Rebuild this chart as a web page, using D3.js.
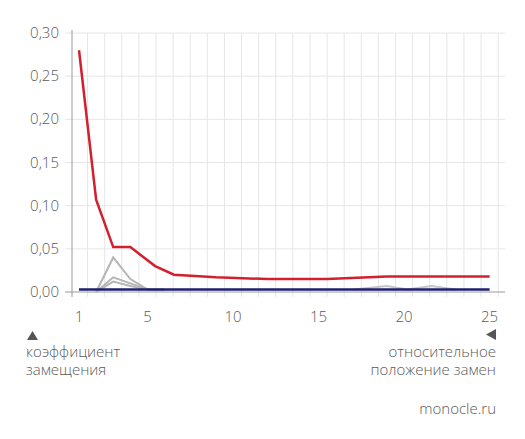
<!DOCTYPE html>
<html><head><meta charset="utf-8">
<script src="https://cdn.jsdelivr.net/npm/d3@7"></script>
<style>body{margin:0;background:#fff}text{font-family:"Open Sans",sans-serif;fill:#5a5a5a;font-weight:300}</style>
</head><body>
<script>
var xTicks = [1, 5, 10, 15, 20, 25];
var yTicks = [0, 0.05, 0.10, 0.15, 0.20, 0.25, 0.30];
var redX = [1, 2, 3, 4, 5.45, 6.55, 9, 12, 15.5, 19, 25];
var redY = [0.28, 0.107, 0.052, 0.052, 0.03, 0.02, 0.017, 0.015, 0.015, 0.018, 0.018];
var grayX = [2, 3, 4, 5, 6];
var gray1 = [0, 0.04, 0.015, 0.003, 0.003];
var gray2 = [0, 0.017, 0.01, 0.003, 0.003];
var gray3 = [0, 0.012, 0.007, 0.003, 0.003];
var grayTailX = [17, 19, 20.2, 21.6, 23];
var grayTailY = [0.003, 0.007, 0.003, 0.007, 0.003];
var navyX = [1, 25];
var navyY = [0.003, 0.003];

var w = 525, h = 439;
var svg = d3.select('body').append('svg').attr('width', w).attr('height', h);
var x = d3.scaleLinear().domain([0.59, 25.9]).range([72, 505]);
var y = d3.scaleLinear().domain([0, 0.30]).range([292, 33]);

// grid
var vlines = d3.range(1.5, 26, 1);
svg.selectAll('.vg').data(vlines).enter().append('line')
  .attr('x1', d => x(d)).attr('x2', d => x(d)).attr('y1', 33).attr('y2', 297)
  .attr('stroke', '#e6e6e6').attr('stroke-width', 1);
svg.selectAll('.hg').data(yTicks).enter().append('line')
  .attr('x1', 65).attr('x2', 505).attr('y1', d => y(d)).attr('y2', d => y(d))
  .attr('stroke', d => d === 0 ? '#999' : '#e6e6e6').attr('stroke-width', 1);
svg.append('line').attr('x1', 72).attr('x2', 72).attr('y1', 30).attr('y2', 297)
  .attr('stroke', '#999');

svg.selectAll('.yt').data(yTicks).enter().append('text')
  .attr('x', 59).attr('y', d => y(d) + 5).attr('text-anchor', 'end')
  .attr('font-size', 15).text(d => d3.format('.2f')(d).replace('.', ','));
svg.selectAll('.xt').data(xTicks).enter().append('text')
  .attr('x', d => x(d)).attr('y', 322).attr('text-anchor', 'middle')
  .attr('font-size', 15).text(d => d);

var line = d3.line().x(d => x(d[0])).y(d => y(d[1]));
var zip = (a, b) => a.map((v, i) => [v, b[i]]);
[gray1, gray2, gray3].forEach(g => {
  svg.append('path').attr('d', line(zip(grayX, g))).attr('fill', 'none')
    .attr('stroke', '#b5b5b5').attr('stroke-width', 2);
});
svg.append('path').attr('d', line(zip(grayTailX, grayTailY))).attr('fill', 'none')
  .attr('stroke', '#c5c5c5').attr('stroke-width', 2);
svg.append('path').attr('d', line(zip(redX, redY))).attr('fill', 'none')
  .attr('stroke', '#d2202e').attr('stroke-width', 2.5);
svg.append('path').attr('d', line(zip(navyX, navyY))).attr('fill', 'none')
  .attr('stroke', '#1f1f6e').attr('stroke-width', 2.5);

// annotations
svg.append('path').attr('d', 'M27,340 L38,340 L32.5,331 Z').attr('fill', '#555');
svg.append('path').attr('d', 'M496,329 L496,340 L486,334.5 Z').attr('fill', '#555');
svg.append('text').attr('x', 26).attr('y', 357).attr('font-size', 15).text('коэффициент');
svg.append('text').attr('x', 26).attr('y', 375).attr('font-size', 15).text('замещения');
svg.append('text').attr('x', 496).attr('y', 357).attr('font-size', 15).attr('text-anchor', 'end').text('относительное');
svg.append('text').attr('x', 496).attr('y', 375).attr('font-size', 15).attr('text-anchor', 'end').text('положение замен');
svg.append('text').attr('x', 496).attr('y', 414).attr('font-size', 15).attr('text-anchor', 'end').text('monocle.ru');
</script>
</body></html>
